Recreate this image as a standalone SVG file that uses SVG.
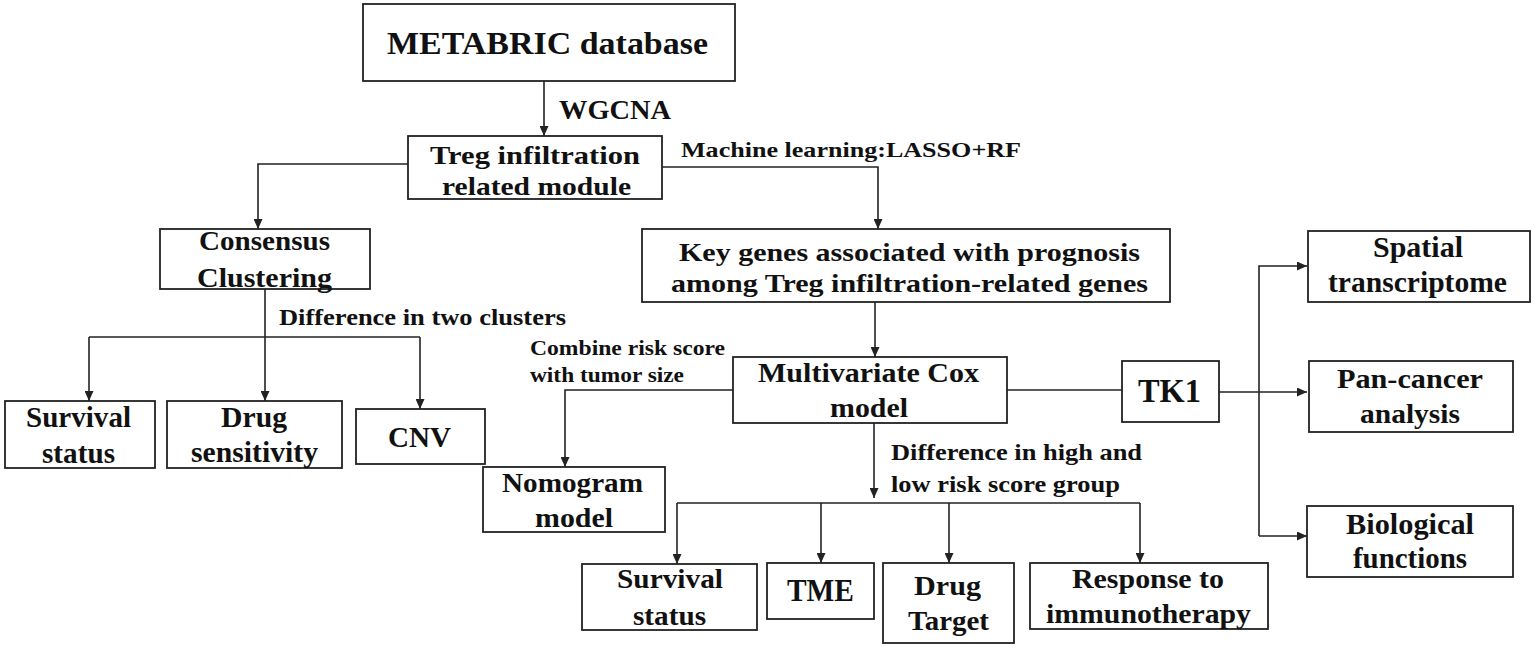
<svg xmlns="http://www.w3.org/2000/svg" width="1535" height="647" viewBox="0 0 1535 647">
<style>
.box{fill:#fff;stroke:#222;stroke-width:1.8}
text{font-family:'Liberation Serif','Times New Roman',Times,serif;font-weight:700;fill:#111}
.t{text-anchor:middle}
.c{fill:none;stroke:#222;stroke-width:1.6}
</style>
<defs>
<marker id="ah" markerUnits="userSpaceOnUse" markerWidth="10" markerHeight="9" refX="10" refY="4.5" orient="auto">
<path d="M0,0 L10,4.5 L0,9 z" fill="#222"/>
</marker>
</defs>
<rect width="1535" height="647" fill="#fff"/>
<g id="connectors">
<path class="c" d="M544,81 V136" marker-end="url(#ah)"/>
<path class="c" d="M408,164 H258 V229" marker-end="url(#ah)"/>
<path class="c" d="M662,167 H878 V229" marker-end="url(#ah)"/>
<path class="c" d="M265,289 V401" marker-end="url(#ah)"/>
<path class="c" d="M89,337 H420"/>
<path class="c" d="M89,337 V401" marker-end="url(#ah)"/>
<path class="c" d="M420,337 V409" marker-end="url(#ah)"/>
<path class="c" d="M875,302 V357" marker-end="url(#ah)"/>
<path class="c" d="M733,390 H565 V467" marker-end="url(#ah)"/>
<path class="c" d="M1007,390 H1122"/>
<path class="c" d="M874,423 V498" marker-end="url(#ah)"/>
<path class="c" d="M677,503 H1140"/>
<path class="c" d="M677,503 V564" marker-end="url(#ah)"/>
<path class="c" d="M821,503 V563" marker-end="url(#ah)"/>
<path class="c" d="M949,503 V563" marker-end="url(#ah)"/>
<path class="c" d="M1140,503 V563" marker-end="url(#ah)"/>
<path class="c" d="M1219,392 H1307" marker-end="url(#ah)"/>
<path class="c" d="M1259,536 V266 H1307" marker-end="url(#ah)"/>
<path class="c" d="M1259,536 H1307" marker-end="url(#ah)"/>
<text x="559" y="119" font-size="28" textLength="112" lengthAdjust="spacingAndGlyphs">WGCNA</text>
<text x="681" y="157" font-size="22" textLength="340" lengthAdjust="spacingAndGlyphs">Machine learning:LASSO+RF</text>
<text x="279" y="325" font-size="24" textLength="287" lengthAdjust="spacingAndGlyphs">Difference in two clusters</text>
<text x="530" y="355" font-size="20" textLength="195" lengthAdjust="spacingAndGlyphs">Combine risk score</text>
<text x="530" y="382" font-size="20" textLength="154" lengthAdjust="spacingAndGlyphs">with tumor size</text>
<text x="891" y="460" font-size="23" textLength="251" lengthAdjust="spacingAndGlyphs">Difference in high and</text>
<text x="891" y="492" font-size="23" textLength="229" lengthAdjust="spacingAndGlyphs">low risk score group</text>
</g>
<g id="metabric">
<rect class="box" x="363" y="4" width="372" height="77"/>
<text class="t" x="547.5" y="54" font-size="31" textLength="321" lengthAdjust="spacingAndGlyphs">METABRIC database</text>
</g>
<g id="treg">
<rect class="box" x="408" y="136" width="254" height="63"/>
<text class="t" x="535" y="164" font-size="26" textLength="210" lengthAdjust="spacingAndGlyphs">Treg infiltration</text>
<text class="t" x="536.5" y="195" font-size="26" textLength="189" lengthAdjust="spacingAndGlyphs">related module</text>
</g>
<g id="consensus">
<rect class="box" x="160" y="229" width="210" height="60"/>
<text class="t" x="264.5" y="250" font-size="28" textLength="131" lengthAdjust="spacingAndGlyphs">Consensus</text>
<text class="t" x="264.5" y="287" font-size="28" textLength="135" lengthAdjust="spacingAndGlyphs">Clustering</text>
</g>
<g id="survival1">
<rect class="box" x="5" y="401" width="150" height="67"/>
<text class="t" x="78.5" y="427" font-size="30" textLength="105" lengthAdjust="spacingAndGlyphs">Survival</text>
<text class="t" x="78.5" y="463" font-size="30" textLength="73" lengthAdjust="spacingAndGlyphs">status</text>
</g>
<g id="drugsens">
<rect class="box" x="167" y="401" width="175" height="67"/>
<text class="t" x="254" y="427" font-size="30" textLength="66" lengthAdjust="spacingAndGlyphs">Drug</text>
<text class="t" x="254.5" y="462" font-size="30" textLength="127" lengthAdjust="spacingAndGlyphs">sensitivity</text>
</g>
<g id="cnv">
<rect class="box" x="356" y="409" width="129" height="55"/>
<text class="t" x="419.5" y="447" font-size="30" textLength="63" lengthAdjust="spacingAndGlyphs">CNV</text>
</g>
<g id="keygenes">
<rect class="box" x="642" y="229" width="528" height="73"/>
<text class="t" x="909.5" y="261" font-size="26" textLength="461" lengthAdjust="spacingAndGlyphs">Key genes associated with prognosis</text>
<text class="t" x="909.5" y="292" font-size="26" textLength="477" lengthAdjust="spacingAndGlyphs">among Treg infiltration-related genes</text>
</g>
<g id="multicox">
<rect class="box" x="733" y="357" width="274" height="66"/>
<text class="t" x="868.5" y="382" font-size="28" textLength="221" lengthAdjust="spacingAndGlyphs">Multivariate Cox</text>
<text class="t" x="869" y="417" font-size="28" textLength="78" lengthAdjust="spacingAndGlyphs">model</text>
</g>
<g id="nomogram">
<rect class="box" x="483" y="467" width="182" height="65"/>
<text class="t" x="572.5" y="492" font-size="28" textLength="141" lengthAdjust="spacingAndGlyphs">Nomogram</text>
<text class="t" x="574" y="527" font-size="28" textLength="78" lengthAdjust="spacingAndGlyphs">model</text>
</g>
<g id="tk1">
<rect class="box" x="1122" y="361" width="97" height="61"/>
<text class="t" x="1169.5" y="402" font-size="33" textLength="63" lengthAdjust="spacingAndGlyphs">TK1</text>
</g>
<g id="survival2">
<rect class="box" x="582" y="564" width="175" height="66"/>
<text class="t" x="670" y="588" font-size="28" textLength="106" lengthAdjust="spacingAndGlyphs">Survival</text>
<text class="t" x="669.5" y="625" font-size="28" textLength="73" lengthAdjust="spacingAndGlyphs">status</text>
</g>
<g id="tme">
<rect class="box" x="767" y="563" width="107" height="56"/>
<text class="t" x="820.5" y="601" font-size="31" textLength="67" lengthAdjust="spacingAndGlyphs">TME</text>
</g>
<g id="drugtarget">
<rect class="box" x="883" y="563" width="131" height="80"/>
<text class="t" x="947.5" y="595" font-size="28" textLength="67" lengthAdjust="spacingAndGlyphs">Drug</text>
<text class="t" x="948.5" y="630" font-size="28" textLength="81" lengthAdjust="spacingAndGlyphs">Target</text>
</g>
<g id="response">
<rect class="box" x="1030" y="563" width="238" height="66"/>
<text class="t" x="1148" y="588" font-size="28" textLength="152" lengthAdjust="spacingAndGlyphs">Response to</text>
<text class="t" x="1148.5" y="623" font-size="28" textLength="205" lengthAdjust="spacingAndGlyphs">immunotherapy</text>
</g>
<g id="spatial">
<rect class="box" x="1308" y="231" width="222" height="71"/>
<text class="t" x="1418" y="257" font-size="30" textLength="90" lengthAdjust="spacingAndGlyphs">Spatial</text>
<text class="t" x="1417.5" y="292" font-size="30" textLength="179" lengthAdjust="spacingAndGlyphs">transcriptome</text>
</g>
<g id="pancancer">
<rect class="box" x="1309" y="361" width="204" height="71"/>
<text class="t" x="1410" y="388" font-size="28" textLength="146" lengthAdjust="spacingAndGlyphs">Pan-cancer</text>
<text class="t" x="1410" y="423" font-size="28" textLength="100" lengthAdjust="spacingAndGlyphs">analysis</text>
</g>
<g id="biological">
<rect class="box" x="1307" y="506" width="206" height="71"/>
<text class="t" x="1410" y="534" font-size="29" textLength="128" lengthAdjust="spacingAndGlyphs">Biological</text>
<text class="t" x="1410" y="568" font-size="29" textLength="114" lengthAdjust="spacingAndGlyphs">functions</text>
</g>
</svg>
